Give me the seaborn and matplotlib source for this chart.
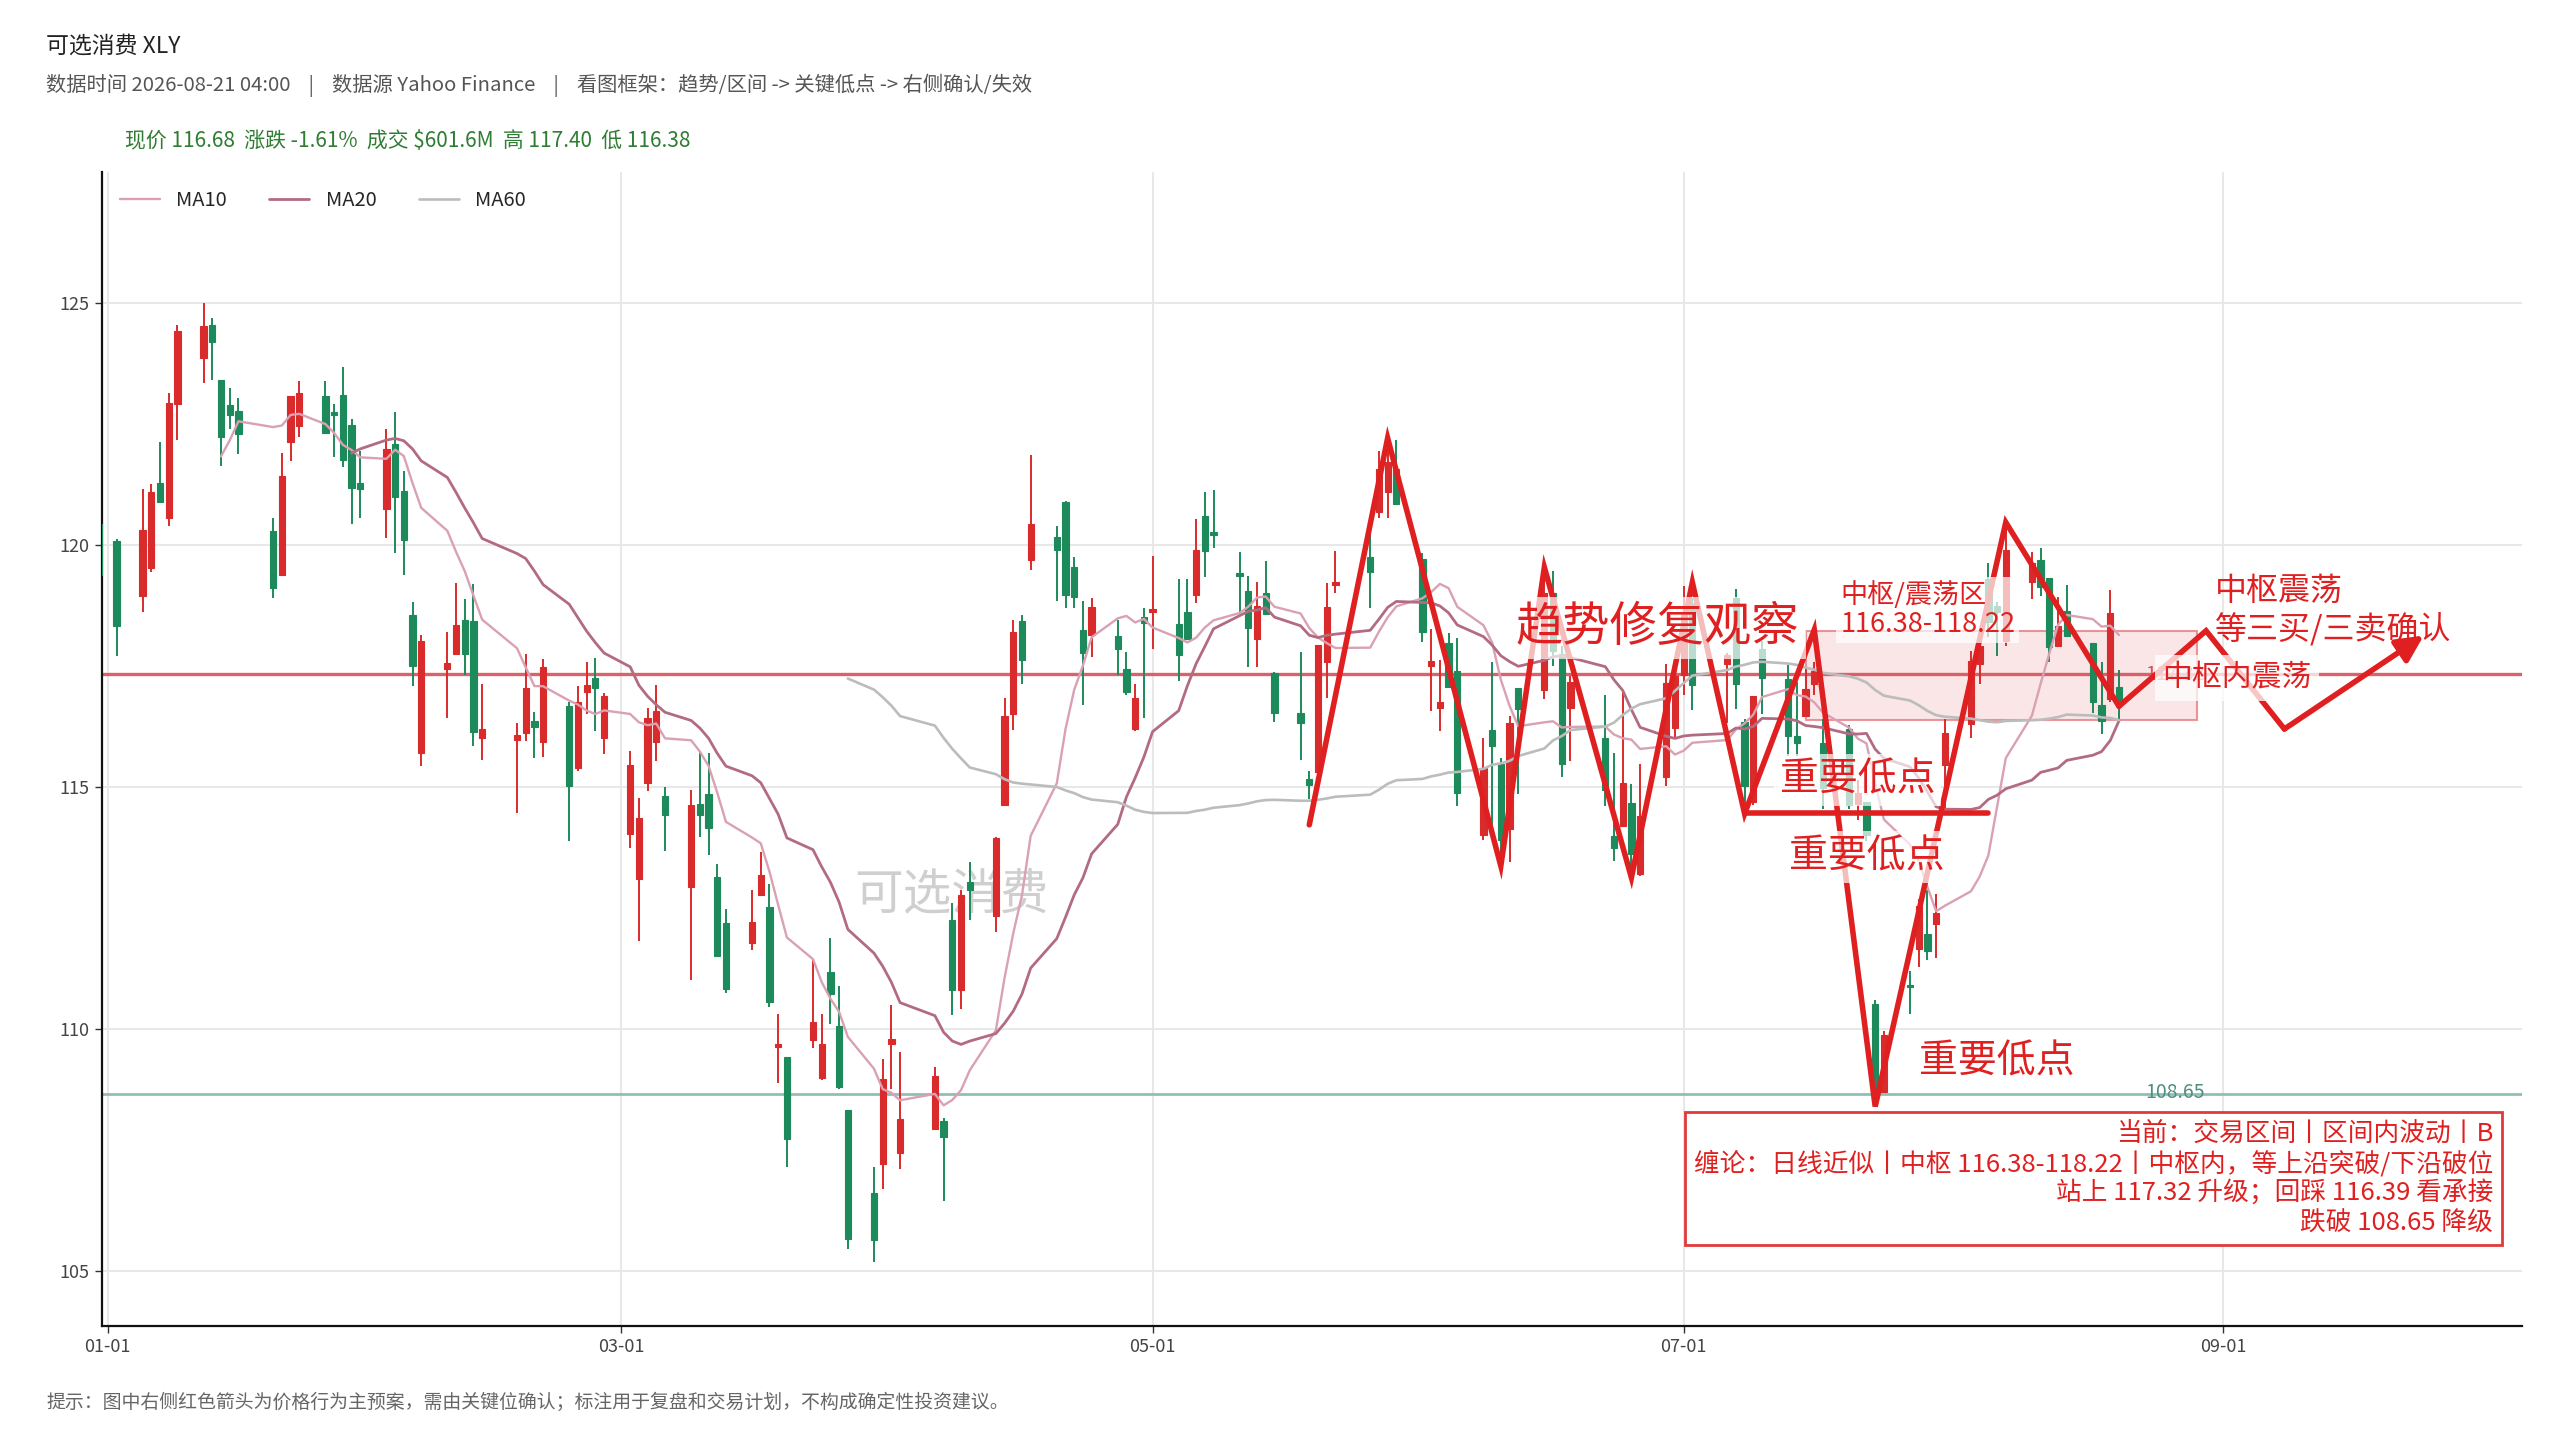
import numpy as np
import pandas as pd
import matplotlib
matplotlib.use('Agg')
import matplotlib.pyplot as plt
import matplotlib.dates as mdates
from matplotlib.patches import Rectangle
import seaborn as sns

# trading calendar (NYSE holidays in the window)
holidays = ['2026-01-01', '2026-01-19', '2026-02-16', '2026-04-03',
            '2026-05-25', '2026-06-19', '2026-07-03']
dates = pd.bdate_range('2025-12-31', '2026-08-20', freq='C', holidays=holidays)

# daily candles (Dec 31, then Jan .. Aug)
opens = [
    120.43, 120.08, 118.93, 119.51, 121.28, 120.56, 122.90, 123.86, 124.54, 123.41, 122.88,
    122.76, 120.28, 119.38, 122.11, 122.46, 123.07, 122.73, 123.10, 122.48, 121.27,
    120.74, 122.08, 121.10, 118.55, 115.69, 117.43, 117.74, 118.45, 118.42, 116.00,
    115.97, 116.10, 116.35, 115.92, 116.66, 115.39, 116.96, 117.24, 116.00,
    114.02, 113.09, 115.08, 115.92, 114.81, 112.92, 114.64, 114.85, 113.14, 112.19, 111.77,
    112.75, 112.52, 109.61, 109.42, 109.76, 108.98, 111.16, 110.06, 108.31, 106.60, 107.20,
    109.68, 107.43, 107.92, 108.10, 112.25, 110.79, 113.02, 112.33, 114.61, 116.51, 118.42,
    119.69, 120.16, 120.88, 119.53, 118.23, 118.13, 118.11, 117.44, 116.20, 118.50,
    118.60, 118.36, 118.60, 118.95, 120.59, 120.25, 119.39, 119.04, 118.05, 119.00,
    117.35, 116.52, 115.16, 115.30, 117.57, 119.17, 119.74, 120.67, 121.08, 121.56,
    119.70, 117.50, 116.62, 117.96, 117.39, 114.00, 116.17, 115.46, 114.12, 117.03, 117.00,
    119.00, 117.74, 116.63, 116.00, 113.97, 114.19, 114.66, 113.19, 115.19, 116.22,
    117.30, 118.80, 117.53, 118.90, 116.33, 114.68, 117.85, 117.22, 116.04, 116.46, 117.13,
    115.90, 116.20, 114.64, 114.68, 110.50, 108.70, 110.88, 111.64, 111.96, 112.16, 115.44,
    116.30, 117.53, 119.29, 118.74, 118.00, 119.22, 119.68, 119.32, 117.91, 118.63,
    117.97, 116.69, 116.81, 117.05,
]
closes = [
    119.38, 118.32, 120.30, 121.08, 120.88, 122.92, 124.41, 124.52, 124.19, 122.23, 122.67,
    122.28, 119.10, 121.41, 123.07, 123.13, 122.30, 122.68, 121.74, 121.17, 121.15,
    121.97, 120.98, 120.10, 117.50, 118.00, 117.56, 118.33, 117.75, 116.12, 116.18,
    116.07, 117.03, 116.23, 117.47, 115.02, 116.74, 117.10, 117.03, 116.87,
    115.44, 114.36, 116.42, 116.57, 114.42, 114.62, 114.42, 114.14, 111.50, 110.82, 112.20,
    113.18, 110.55, 109.69, 107.71, 110.13, 109.68, 110.71, 108.79, 105.65, 105.63, 108.96,
    109.79, 108.14, 109.03, 107.76, 110.79, 112.75, 112.87, 113.93, 116.45, 118.20, 117.62,
    120.42, 119.89, 118.95, 118.92, 117.76, 118.71, 117.84, 116.96, 116.84, 118.37,
    118.63, 117.71, 118.05, 119.89, 119.86, 120.20, 119.36, 118.27, 118.73, 118.57,
    116.52, 116.32, 115.04, 117.93, 118.71, 119.19, 119.43, 121.56, 121.70, 120.84,
    118.19, 117.59, 116.74, 117.05, 114.86, 115.39, 115.84, 113.90, 116.31, 116.60, 119.00,
    117.80, 115.46, 117.17, 114.94, 113.74, 115.08, 113.60, 114.39, 117.15, 117.29,
    118.60, 117.10, 117.72, 117.13, 115.01, 116.87, 117.24, 116.04, 115.90, 117.01, 117.39,
    114.98, 114.61, 114.87, 114.01, 108.53, 109.87, 110.85, 112.53, 111.61, 112.39, 116.11,
    117.60, 117.91, 118.40, 118.60, 119.88, 119.63, 119.12, 117.88, 118.32, 118.12,
    116.74, 116.36, 118.59, 116.68,
]
highs = [
    120.50, 120.12, 121.15, 121.26, 122.12, 123.14, 124.54, 125.00, 124.68, 123.41, 123.24,
    123.03, 120.54, 121.89, 123.07, 123.38, 123.38, 122.91, 123.67, 122.60, 121.93,
    122.39, 122.74, 121.52, 118.81, 118.14, 118.19, 119.20, 118.88, 119.18, 117.13,
    116.32, 117.75, 116.54, 117.64, 116.74, 117.07, 117.57, 117.66, 116.93,
    115.74, 114.76, 116.63, 117.09, 114.99, 114.93, 115.72, 115.69, 113.41, 112.47, 112.86,
    113.64, 112.98, 110.31, 109.42, 111.42, 110.31, 111.88, 110.88, 108.31, 107.14, 109.38,
    110.48, 109.51, 109.21, 108.15, 112.59, 112.87, 113.44, 113.95, 116.83, 118.44, 118.55,
    121.85, 120.38, 120.91, 119.75, 118.84, 118.90, 118.44, 117.78, 117.12, 118.68,
    119.77, 119.29, 119.29, 120.53, 121.08, 121.13, 119.84, 119.35, 119.22, 119.66,
    117.36, 117.78, 115.33, 117.93, 119.21, 119.86, 120.25, 121.93, 121.98, 122.16,
    119.82, 118.26, 117.62, 118.17, 118.08, 116.01, 117.57, 115.60, 116.46, 117.03, 119.30,
    119.46, 117.91, 117.29, 116.90, 115.70, 116.97, 115.05, 115.46, 117.53, 117.46,
    119.15, 118.90, 117.76, 119.09, 116.40, 116.87, 118.00, 117.52, 117.16, 117.42, 117.57,
    116.39, 116.27, 115.13, 114.68, 110.60, 109.94, 111.20, 112.68, 112.87, 112.79, 116.39,
    117.80, 117.95, 119.63, 118.81, 120.30, 119.84, 119.94, 119.32, 118.91, 119.17,
    117.97, 117.57, 119.07, 117.40,
]
lows = [
    119.30, 117.70, 118.60, 119.44, 120.85, 120.39, 122.17, 123.33, 123.41, 121.63, 122.39,
    121.88, 118.90, 119.38, 121.72, 122.23, 122.30, 121.82, 121.60, 120.42, 120.54,
    120.13, 119.82, 119.37, 117.07, 115.42, 116.41, 117.71, 117.30, 115.83, 115.54,
    114.45, 115.95, 115.59, 115.62, 113.87, 115.33, 116.50, 116.14, 115.67,
    113.73, 111.80, 114.91, 115.53, 113.66, 111.01, 113.96, 113.58, 111.48, 110.74, 111.63,
    112.73, 110.44, 108.87, 107.14, 109.59, 108.94, 110.10, 108.75, 105.44, 105.17, 106.69,
    108.75, 107.09, 107.92, 106.43, 110.28, 110.40, 112.25, 111.99, 114.60, 116.17, 117.12,
    119.48, 118.84, 118.68, 118.68, 116.68, 117.67, 117.31, 116.89, 116.14, 116.41,
    117.84, 117.19, 118.05, 118.79, 119.33, 119.94, 118.60, 117.47, 117.47, 118.57,
    116.33, 115.54, 114.75, 115.10, 116.83, 119.00, 118.70, 120.56, 120.56, 120.82,
    117.98, 116.57, 116.14, 117.05, 114.60, 113.90, 114.20, 113.50, 113.44, 114.84, 116.80,
    117.50, 115.19, 115.53, 114.60, 113.46, 114.19, 113.10, 113.15, 115.01, 116.00,
    116.90, 116.59, 116.31, 116.60, 114.53, 114.61, 116.50, 115.64, 115.64, 116.46, 116.90,
    114.53, 114.53, 114.31, 113.87, 108.39, 108.68, 110.31, 111.27, 111.42, 111.46, 114.53,
    116.00, 117.12, 118.10, 117.70, 117.90, 118.88, 118.94, 117.57, 117.88, 118.12,
    116.53, 116.08, 116.74, 116.38,
]

# key levels
zone_low, zone_high = 116.38, 118.22
zone_span = ['2026-07-15', '2026-08-29']
upgrade_level = 117.32
downgrade_level = 108.65
retest_level = 116.39
key_low_level = 114.45
key_low_span = ['2026-07-08', '2026-08-05']

# hand-drawn swing path and the projected path
pivot_dates = ['2026-05-19', '2026-05-28', '2026-06-10', '2026-06-15', '2026-06-25',
               '2026-07-02', '2026-07-08', '2026-07-16', '2026-07-23', '2026-08-07',
               '2026-08-20']
pivot_prices = [114.21, 122.20, 113.36, 119.53, 113.12, 119.22, 114.44, 118.24,
                108.39, 120.46, 116.66]
proj_dates = ['2026-08-20', '2026-08-30', '2026-09-08', '2026-09-24']
proj_prices = [116.66, 118.22, 116.19, 118.12]

volume_text = '$601.6M'

n = min(len(dates), len(opens), len(closes), len(highs), len(lows))
df = pd.DataFrame({'date': dates[:n], 'open': opens[:n], 'close': closes[:n],
                   'high': highs[:n], 'low': lows[:n]})
df['ma10'] = df['close'].rolling(10).mean()
df['ma20'] = df['close'].rolling(20).mean()
df['ma60'] = df['close'].rolling(60).mean()

RED = '#d92b2b'
GREEN = '#1d8a5c'
LINE_RED = '#e02020'

sns.set_theme(style='whitegrid')
plt.rcParams['font.family'] = ['Noto Sans CJK SC', 'DejaVu Sans']
plt.rcParams['axes.unicode_minus'] = False

fig = plt.figure(figsize=(25.6, 14.4), dpi=100)
ax = fig.add_axes([0.0397, 0.079, 0.9456, 0.8016])
ax.set_facecolor('white')

# candles
up = df['close'] >= df['open']
colors = np.where(up, RED, GREEN)
ax.vlines(df['date'], df['low'], df['high'], colors=colors, lw=1.4, zorder=3)
body_bottom = np.minimum(df['open'], df['close'])
body_height = np.maximum((df['close'] - df['open']).abs(), 0.06)
ax.bar(df['date'], body_height, bottom=body_bottom, width=0.72, color=colors,
       edgecolor=colors, linewidth=0.8, zorder=4)

# moving averages
sns.lineplot(data=df, x='date', y='ma10', ax=ax, color='#d9a1b3', lw=1.7, label='MA10', zorder=5)
sns.lineplot(data=df, x='date', y='ma20', ax=ax, color='#b26b82', lw=2.0, label='MA20', zorder=5)
sns.lineplot(data=df, x='date', y='ma60', ax=ax, color='#bcbcbc', lw=1.9, label='MA60', zorder=5)

# range zone
z0 = mdates.date2num(pd.Timestamp(zone_span[0]))
z1 = mdates.date2num(pd.Timestamp(zone_span[1]))
ax.add_patch(Rectangle((z0, zone_low), z1 - z0, zone_high - zone_low,
                       facecolor=(0.95, 0.72, 0.74, 0.35), edgecolor=(0.89, 0.45, 0.48, 0.75),
                       lw=1.5, zorder=2))

# level lines
ax.axhline(upgrade_level, color='#d9505a', lw=2.4, alpha=0.9, zorder=2.5)
ax.axhline(downgrade_level, color='#8fbfb5', lw=2.0, zorder=2.5)
lbl_x = pd.Timestamp('2026-08-23')
ax.text(lbl_x, upgrade_level, f'{upgrade_level:.2f}', color='#d9505a', fontsize=14,
        ha='left', va='center', zorder=6)
ax.text(lbl_x, downgrade_level + 0.02, f'{downgrade_level:.2f}', color='#4f8f82', fontsize=14,
        ha='left', va='center', zorder=6)

# swing path
ax.plot(pd.to_datetime(pivot_dates), pivot_prices, color=LINE_RED, lw=4.0,
        solid_joinstyle='miter', solid_capstyle='round', zorder=6)
ax.plot(pd.to_datetime(key_low_span), [key_low_level, key_low_level], color=LINE_RED,
        lw=4.0, zorder=6)

# projection with arrow
pd_dates = pd.to_datetime(proj_dates)
ax.plot(pd_dates[:-1], proj_prices[:-1], color=LINE_RED, lw=4.0,
        solid_joinstyle='miter', zorder=6)
ax.annotate('', xy=(mdates.date2num(pd_dates[-1]), proj_prices[-1]),
            xytext=(mdates.date2num(pd_dates[-2]), proj_prices[-2]),
            arrowprops=dict(arrowstyle='-|>,head_length=0.8,head_width=0.4', color=LINE_RED,
                            lw=4.0, mutation_scale=20, shrinkA=0, shrinkB=0), zorder=6)

# annotations
wbox = dict(boxstyle='square,pad=0.15', facecolor='white', edgecolor='none', alpha=0.7)
ax.text(pd.Timestamp('2026-06-28'), 118.28, '趋势修复观察', fontsize=34, color=LINE_RED,
        ha='center', va='center', bbox=wbox, zorder=7)
ax.text(pd.Timestamp('2026-07-21'), 115.14, '重要低点', fontsize=28, color=LINE_RED,
        ha='center', va='center', bbox=wbox, zorder=7)
ax.text(pd.Timestamp('2026-07-22'), 113.55, '重要低点', fontsize=28, color=LINE_RED,
        ha='center', va='center', bbox=wbox, zorder=7)
ax.text(pd.Timestamp('2026-08-06'), 109.32, '重要低点', fontsize=28, color=LINE_RED,
        ha='center', va='center', bbox=wbox, zorder=7)
ax.text(pd.Timestamp('2026-07-19'), 118.65, f'中枢/震荡区\n{zone_low:.2f}-{zone_high:.2f}',
        fontsize=19.5, color=LINE_RED, ha='left', va='center', linespacing=1.1,
        bbox=wbox, zorder=7)
ax.text(pd.Timestamp('2026-08-25'), 117.24, '中枢内震荡', fontsize=21.5, color=LINE_RED,
        ha='left', va='center', bbox=dict(boxstyle='square,pad=0.25', facecolor='white',
                                          edgecolor='none', alpha=0.75), zorder=7)
ax.text(pd.Timestamp('2026-08-31'), 118.65, '中枢震荡\n等三买/三卖确认', fontsize=23,
        color=LINE_RED, ha='left', va='center', linespacing=1.2, zorder=7)

# watermark
ax.text(0.351, 0.374, '可选消费', transform=ax.transAxes, fontsize=35, color='#c4c4c4',
        alpha=0.8, ha='center', va='center', zorder=1)

# status box
box_lines = [
    '当前：交易区间丨区间内波动丨B',
    f'缠论：日线近似丨中枢 {zone_low:.2f}-{zone_high:.2f}丨中枢内，等上沿突破/下沿破位',
    f'站上 {upgrade_level:.2f} 升级；回踩 {retest_level:.2f} 看承接',
    f'跌破 {downgrade_level:.2f} 降级',
]
ax.text(0.988, 0.078, '\n'.join(box_lines), transform=ax.transAxes, fontsize=18.5,
        color=LINE_RED, ha='right', va='bottom', multialignment='right', linespacing=1.18,
        bbox=dict(boxstyle='square,pad=0.35', facecolor='white', edgecolor='#e03a3a', lw=2),
        zorder=8)

# axes cosmetics
ax.set_xlim(pd.Timestamp('2025-12-31 07:00'), pd.Timestamp('2026-10-05 08:00'))
ax.set_ylim(103.85, 127.7)
ax.set_yticks([105, 110, 115, 120, 125])
ax.xaxis.set_major_locator(mdates.MonthLocator(bymonth=[1, 3, 5, 7, 9]))
ax.xaxis.set_major_formatter(mdates.DateFormatter('%m-%d'))
ax.set_xlabel('')
ax.set_ylabel('')
ax.grid(True, color='#e8e8e8', lw=1.5)
ax.set_axisbelow(True)
for side in ['top', 'right']:
    ax.spines[side].set_visible(False)
for side in ['left', 'bottom']:
    ax.spines[side].set_visible(True)
    ax.spines[side].set_color('#111111')
    ax.spines[side].set_linewidth(1.6)
ax.tick_params(axis='both', bottom=True, left=True, length=5, width=1, color='#333333',
               labelsize=13, labelcolor='#444444')

leg = ax.legend(loc='upper left', ncol=3, frameon=False, fontsize=14.5, handlelength=2.0,
                columnspacing=2.1, borderaxespad=0.5)

# header and footer
last = df.iloc[-1]
prev_close = df['close'].iloc[-2]
chg = (last['close'] / prev_close - 1) * 100
fig.text(0.018, 0.968, '可选消费 XLY', fontsize=16.5, color='#222222', va='center')
fig.text(0.018, 0.941, '数据时间 2026-08-21 04:00    |    数据源 Yahoo Finance    |    '
         '看图框架：趋势/区间 -> 关键低点 -> 右侧确认/失效',
         fontsize=14.6, color='#555555', va='center')
fig.text(0.049, 0.902,
         f'现价 {last["close"]:.2f}  涨跌 {chg:.2f}%  成交 \\{volume_text}  '
         f'高 {last["high"]:.2f}  低 {last["low"]:.2f}',
         fontsize=15, color='#2e7d32', va='center')
fig.text(0.018, 0.026, '提示：图中右侧红色箭头为价格行为主预案，需由关键位确认；'
         '标注用于复盘和交易计划，不构成确定性投资建议。',
         fontsize=13.6, color='#666666', va='center')

fig.savefig('out.png', dpi=100, facecolor='white')
